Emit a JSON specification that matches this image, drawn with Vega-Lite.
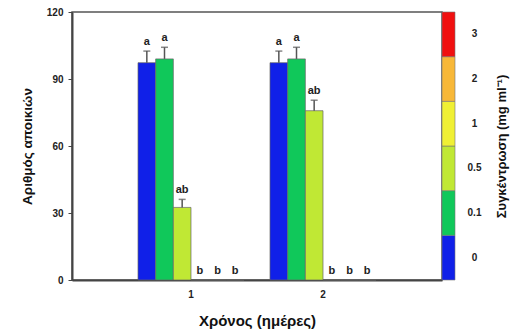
{
  "$schema": "https://vega.github.io/schema/vega-lite/v6.json",
  "padding": {"left": 19, "top": 6, "right": 5, "bottom": 5},
  "background": "white",
  "spacing": 0,
  "bounds": "flush",
  "config": {
    "font": "Liberation Sans",
    "axis": {"labelFont": "Liberation Sans", "labelFontWeight": "bold", "labelFontSize": 10, "labelColor": "#222", "titleFont": "Liberation Sans", "titleFontWeight": "bold", "titleFontSize": 13.5, "titleColor": "#111", "grid": false}
  },
  "datasets": {
    "bars": [
      {"day": "1", "conc": "0", "mean": 97.3, "hi": 102.5, "letter": "a"},
      {"day": "1", "conc": "0.1", "mean": 99, "hi": 104.2, "letter": "a"},
      {"day": "1", "conc": "0.5", "mean": 32.5, "hi": 36.1, "letter": "ab"},
      {"day": "1", "conc": "1", "mean": 0, "hi": 0, "letter": "b"},
      {"day": "1", "conc": "2", "mean": 0, "hi": 0, "letter": "b"},
      {"day": "1", "conc": "3", "mean": 0, "hi": 0, "letter": "b"},
      {"day": "2", "conc": "0", "mean": 97.3, "hi": 102.5, "letter": "a"},
      {"day": "2", "conc": "0.1", "mean": 99, "hi": 104.2, "letter": "a"},
      {"day": "2", "conc": "0.5", "mean": 75.8, "hi": 80.5, "letter": "ab"},
      {"day": "2", "conc": "1", "mean": 0, "hi": 0, "letter": "b"},
      {"day": "2", "conc": "2", "mean": 0, "hi": 0, "letter": "b"},
      {"day": "2", "conc": "3", "mean": 0, "hi": 0, "letter": "b"}
    ],
    "scale": [
      {"conc": "0", "bar": "c"},
      {"conc": "0.1", "bar": "c"},
      {"conc": "0.5", "bar": "c"},
      {"conc": "1", "bar": "c"},
      {"conc": "2", "bar": "c"},
      {"conc": "3", "bar": "c"}
    ]
  },
  "hconcat": [
    {
      "width": 370,
      "height": 268,
      "view": {"stroke": "#555", "strokeWidth": 1.5},
      "data": {"name": "bars"},
      "encoding": {
        "x": {"field": "day", "type": "nominal", "title": "Χρόνος (ημέρες)",
          "scale": {"paddingInner": 0.197, "paddingOuter": 0.5},
          "axis": {"labelAngle": 0, "ticks": false, "labelPadding": 9, "titlePadding": 14, "titleFontSize": 15, "domainColor": "#444", "domainWidth": 2}},
        "xOffset": {"field": "conc", "type": "nominal", "scale": {"domain": ["0", "0.1", "0.5", "1", "2", "3"], "paddingInner": 0, "paddingOuter": 0}}
      },
      "layer": [
        {
          "mark": {"type": "bar", "stroke": "#666", "strokeWidth": 0.7},
          "encoding": {
            "y": {"field": "mean", "type": "quantitative", "title": "Αριθμός αποικιών",
              "scale": {"domain": [0, 120]},
              "axis": {"values": [0, 30, 60, 90, 120], "tickSize": 4, "tickColor": "#444", "labelPadding": 5, "titlePadding": 12, "domainColor": "#444", "domainWidth": 2}},
            "color": {"field": "conc", "type": "nominal", "legend": null,
              "scale": {"domain": ["0", "0.1", "0.5", "1", "2", "3"], "range": ["#1020e8", "#10c85a", "#c0e834", "#f0f034", "#f8b838", "#f01010"]}}
          }
        },
        {
          "transform": [{"filter": "datum.mean > 0"}],
          "mark": {"type": "rule", "color": "#555", "strokeWidth": 1.5},
          "encoding": {
            "y": {"field": "mean", "type": "quantitative"},
            "y2": {"field": "hi"}
          }
        },
        {
          "transform": [{"filter": "datum.mean > 0"}],
          "mark": {"type": "tick", "color": "#555", "thickness": 1.5, "size": 7, "orient": "horizontal"},
          "encoding": {
            "y": {"field": "hi", "type": "quantitative"}
          }
        },
        {
          "mark": {"type": "text", "fontWeight": "bold", "fontSize": 11, "color": "#222", "baseline": "middle", "dy": -9},
          "encoding": {
            "y": {"field": "hi", "type": "quantitative"},
            "text": {"field": "letter"}
          }
        }
      ]
    },
    {
      "width": 13,
      "height": 268,
      "view": {"stroke": null},
      "data": {"name": "scale"},
      "mark": {"type": "rect", "stroke": "#777", "strokeWidth": 0.6},
      "encoding": {
        "x": {"field": "bar", "type": "nominal", "scale": {"paddingInner": 0, "paddingOuter": 0}, "axis": null},
        "y": {"field": "conc", "type": "nominal", "title": "Συγκέντρωση (mg ml⁻¹)",
          "scale": {"domain": ["3", "2", "1", "0.5", "0.1", "0"], "paddingInner": 0, "paddingOuter": 0},
          "axis": {"orient": "right", "ticks": false, "domain": false, "labelAlign": "center", "labelPadding": 19, "titleAngle": 270, "titlePadding": 28, "titleFontSize": 13}},
        "color": {"field": "conc", "type": "nominal", "legend": null,
          "scale": {"domain": ["0", "0.1", "0.5", "1", "2", "3"], "range": ["#1020e8", "#10c85a", "#c0e834", "#f0f034", "#f8b838", "#f01010"]}}
      }
    }
  ],
  "resolve": {"scale": {"color": "shared"}}
}
